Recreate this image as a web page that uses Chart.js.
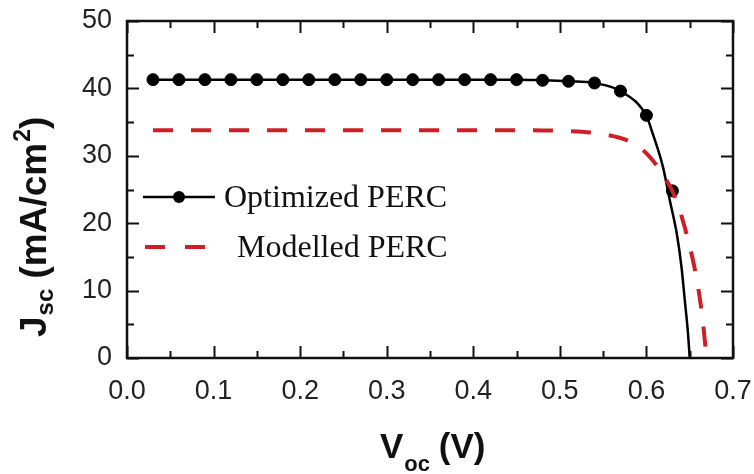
<!DOCTYPE html>
<html>
<head>
<meta charset="utf-8">
<script src="https://cdn.jsdelivr.net/npm/chart.js@4"></script>
<style>
  html, body { margin: 0; padding: 0; background: #fff; }
  #wrap { width: 754px; height: 474px; }
</style>
</head>
<body>
<div id="wrap"><canvas id="ivChart" width="754" height="474"></canvas></div>
<script>
// Optimized PERC: markers every 0.03 V
const optMarkerV = [0.03, 0.06, 0.09, 0.12, 0.15, 0.18, 0.21, 0.24, 0.27, 0.30, 0.33,
                    0.36, 0.39, 0.42, 0.45, 0.48, 0.51, 0.54, 0.57, 0.60, 0.63];
const optMarkerJ = [41.3, 41.3, 41.3, 41.3, 41.3, 41.3, 41.3, 41.3, 41.3, 41.3, 41.3,
                    41.3, 41.3, 41.3, 41.3, 41.2, 41.05, 40.8, 39.6, 36.0, 24.8];
// Optimized PERC: solid curve
const optCurveV = [0.03, 0.45, 0.48, 0.51, 0.54, 0.57, 0.60, 0.607, 0.619, 0.627, 0.635, 0.6405, 0.6443, 0.648, 0.650];
const optCurveJ = [41.3, 41.3, 41.2, 41.05, 40.8, 39.6, 35.9, 33.4, 28.4, 23.4, 18.5, 13.5, 8.6, 3.7, 0];
// Modelled PERC: dashed curve
const modV = [0.03, 0.45, 0.50, 0.55, 0.581, 0.602, 0.623, 0.633, 0.644, 0.656, 0.664, 0.6695];
const modJ = [33.8, 33.8, 33.7, 33.2, 32.1, 30.1, 26.4, 23.9, 19.5, 13.1, 6.7, 0];

const xTicks = [0, 0.1, 0.2, 0.3, 0.4, 0.5, 0.6, 0.7];
const yTicks = [0, 10, 20, 30, 40, 50];

const toPoints = (xs, ys) => xs.map((x, i) => ({ x: x, y: ys[i] }));

// frame, inward ticks, axis titles and legend
const decorPlugin = {
    id: 'decor',
    afterDraw(chart) {
        const ctx = chart.ctx;
        const a = chart.chartArea;
        const xs = chart.scales.x;
        const ys = chart.scales.y;
        ctx.save();
        ctx.strokeStyle = '#111';
        ctx.lineWidth = 2.5;
        ctx.strokeRect(a.left, a.top, a.right - a.left, a.bottom - a.top);

        ctx.lineWidth = 2;
        ctx.beginPath();
        for (let v = 0; v <= 0.7001; v += 0.05) {
            const px = Math.round(xs.getPixelForValue(v)) + 0.5;
            const len = Math.abs(Math.round(v * 20) % 2) === 0 ? 12 : 7;
            ctx.moveTo(px, a.bottom); ctx.lineTo(px, a.bottom - len);
            ctx.moveTo(px, a.top); ctx.lineTo(px, a.top + len);
        }
        for (let v = 0; v <= 50; v += 5) {
            const py = Math.round(ys.getPixelForValue(v)) + 0.5;
            const len = v % 10 === 0 ? 12 : 7;
            ctx.moveTo(a.left, py); ctx.lineTo(a.left + len, py);
            ctx.moveTo(a.right, py); ctx.lineTo(a.right - len, py);
        }
        ctx.stroke();

        // x title: V_oc (V)
        ctx.fillStyle = '#111';
        ctx.textBaseline = 'alphabetic';
        ctx.textAlign = 'left';
        let x = 380;
        ctx.font = 'bold 35px "Liberation Sans", Arial, sans-serif';
        ctx.fillText('V', x, 458);
        x += ctx.measureText('V').width;
        ctx.font = 'bold 22px "Liberation Sans", Arial, sans-serif';
        ctx.fillText('oc', x + 1, 471);
        x += ctx.measureText('oc').width;
        ctx.font = 'bold 35px "Liberation Sans", Arial, sans-serif';
        ctx.fillText(' (V)', x, 458);

        // y title: J_sc (mA/cm^2)
        ctx.save();
        ctx.translate(46, 337);
        ctx.rotate(-Math.PI / 2);
        x = 0;
        ctx.font = 'bold 37px "Liberation Sans", Arial, sans-serif';
        ctx.fillText('J', x, 0);
        x += ctx.measureText('J').width;
        ctx.font = 'bold 24px "Liberation Sans", Arial, sans-serif';
        ctx.fillText('sc', x + 1, 7);
        x += ctx.measureText('sc').width + 1;
        ctx.font = 'bold 37px "Liberation Sans", Arial, sans-serif';
        ctx.fillText(' (mA/cm', x, 0);
        x += ctx.measureText(' (mA/cm').width;
        ctx.font = 'bold 23px "Liberation Sans", Arial, sans-serif';
        ctx.fillText('2', x + 1, -16);
        x += ctx.measureText('2').width + 1;
        ctx.font = 'bold 37px "Liberation Sans", Arial, sans-serif';
        ctx.fillText(')', x, 0);
        ctx.restore();

        // legend
        ctx.font = '32px "Liberation Serif", "Times New Roman", serif';
        ctx.strokeStyle = '#000';
        ctx.lineWidth = 2.5;
        ctx.beginPath();
        ctx.moveTo(143, 197); ctx.lineTo(215, 197);
        ctx.stroke();
        ctx.beginPath();
        ctx.arc(179, 197, 6, 0, Math.PI * 2);
        ctx.fillStyle = '#000';
        ctx.fill();
        ctx.fillStyle = '#111';
        ctx.fillText('Optimized PERC', 224, 207);

        ctx.strokeStyle = '#cc2028';
        ctx.lineWidth = 4;
        ctx.setLineDash([20, 20]);
        ctx.beginPath();
        ctx.moveTo(145, 247); ctx.lineTo(206, 247);
        ctx.stroke();
        ctx.setLineDash([]);
        ctx.fillText('Modelled PERC', 237, 257);
        ctx.restore();
    }
};

new Chart(document.getElementById('ivChart').getContext('2d'), {
    type: 'scatter',
    data: {
        datasets: [
            {
                label: 'Modelled PERC',
                data: toPoints(modV, modJ),
                showLine: true,
                borderColor: '#cc2028',
                borderWidth: 4,
                borderDash: [20, 18],
                pointRadius: 0,
                cubicInterpolationMode: 'monotone',
                order: 0
            },
            {
                label: 'Optimized PERC',
                data: toPoints(optCurveV, optCurveJ),
                showLine: true,
                borderColor: '#000',
                borderWidth: 2.5,
                pointRadius: 0,
                cubicInterpolationMode: 'monotone',
                order: 2
            },
            {
                label: 'Optimized PERC markers',
                data: toPoints(optMarkerV, optMarkerJ),
                showLine: false,
                backgroundColor: '#000',
                borderColor: '#000',
                pointRadius: 6,
                pointHoverRadius: 6,
                order: 1
            }
        ]
    },
    options: {
        responsive: false,
        animation: false,
        events: [],
        layout: { padding: { left: 0, right: 21, top: 21, bottom: 0 } },
        plugins: {
            legend: { display: false },
            tooltip: { enabled: false }
        },
        scales: {
            x: {
                type: 'linear',
                min: 0,
                max: 0.7,
                afterBuildTicks: scale => { scale.ticks = xTicks.map(v => ({ value: v })); },
                afterFit: scale => {
                    scale.height = 116;
                    scale.paddingLeft = 0;
                    scale.paddingRight = 0;
                },
                grid: { display: false, drawTicks: false },
                border: { display: false },
                ticks: {
                    padding: 17,
                    color: '#222',
                    font: { family: '"Liberation Sans", Arial, sans-serif', size: 27 },
                    callback: v => Number(v).toFixed(1)
                }
            },
            y: {
                type: 'linear',
                min: 0,
                max: 50,
                afterBuildTicks: scale => { scale.ticks = yTicks.map(v => ({ value: v })); },
                afterFit: scale => {
                    scale.width = 127;
                    scale.paddingTop = 0;
                    scale.paddingBottom = 0;
                },
                grid: { display: false, drawTicks: false },
                border: { display: false },
                ticks: {
                    padding: 15,
                    color: '#222',
                    font: { family: '"Liberation Sans", Arial, sans-serif', size: 27 }
                }
            }
        }
    },
    plugins: [decorPlugin]
});
</script>
</body>
</html>
